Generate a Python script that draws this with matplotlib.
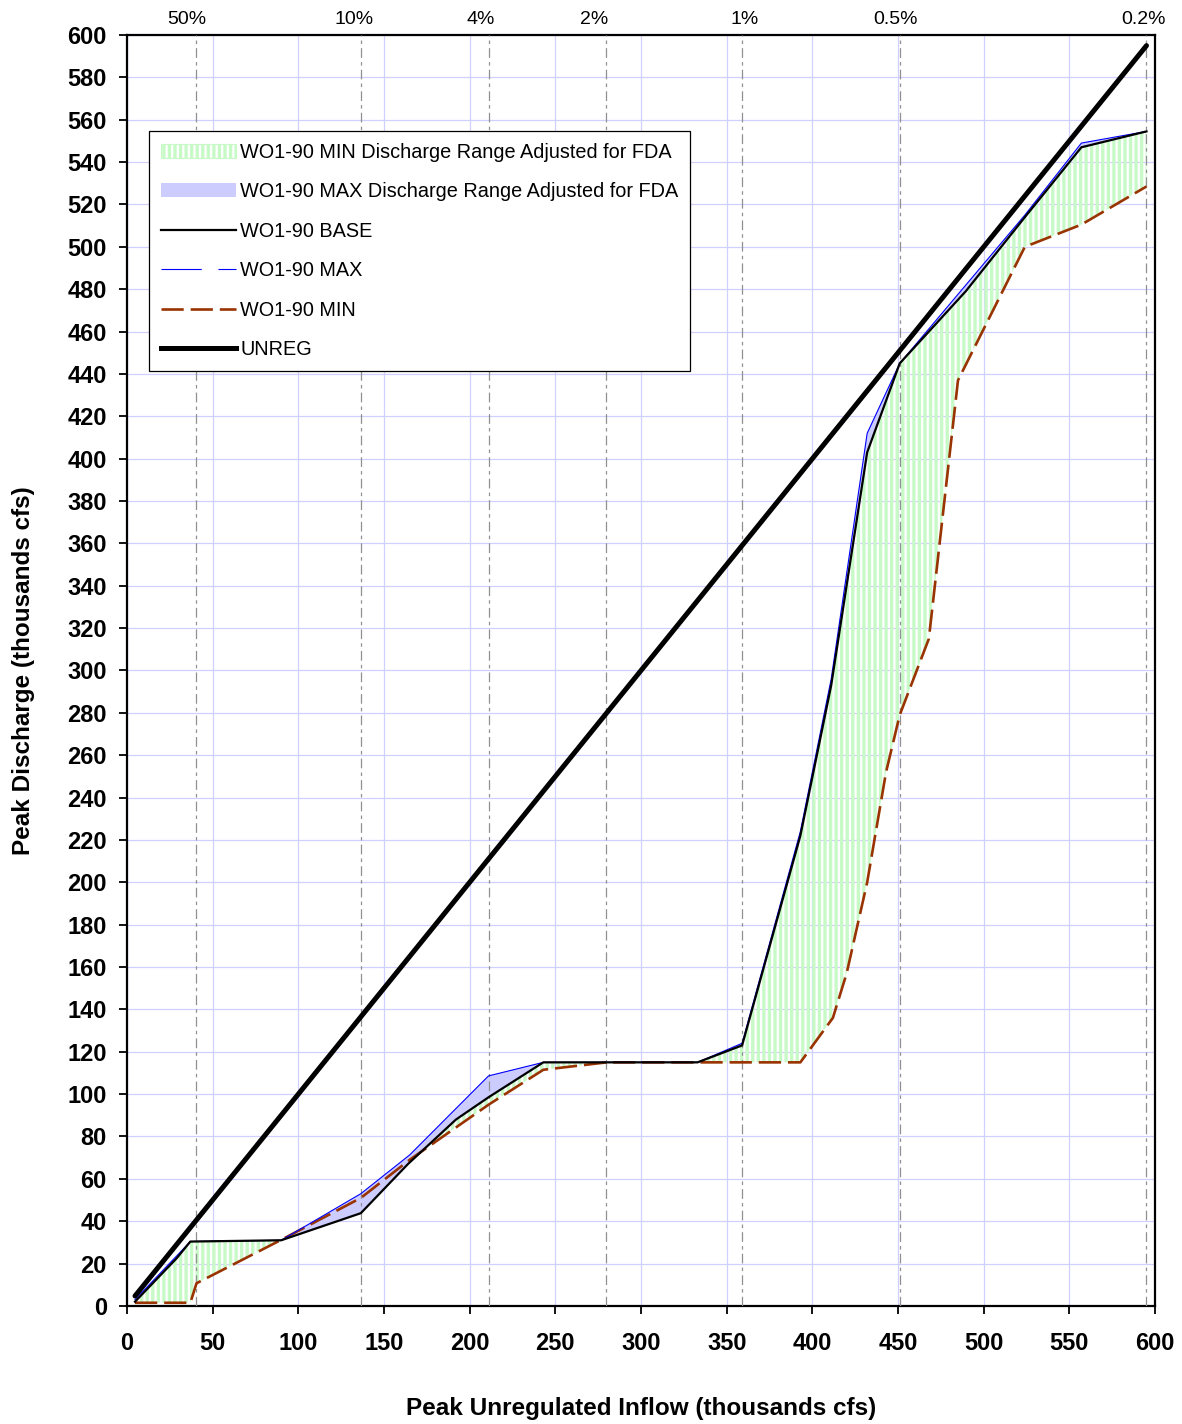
import numpy as np
import matplotlib
matplotlib.use('Agg')
from matplotlib import pyplot as plt
from matplotlib import patches as mpatches
from matplotlib.lines import Line2D

plt.rcParams['font.family'] = ['Liberation Sans', 'DejaVu Sans']
plt.rcParams['hatch.linewidth'] = 2.4
plt.rcParams['lines.scale_dashes'] = False

# peak unregulated inflow (x) vs peak discharge (y), thousands cfs
unreg_x = [4.7, 40.5, 136.5, 211.0, 280.0, 359.0, 451.0, 595.0]
unreg_y = [4.7, 40.5, 136.5, 211.0, 280.0, 359.0, 451.0, 595.0]

base_x = [4.7, 29.0, 37.0, 90.0, 136.5, 164.0, 192.0, 211.0, 243.0, 333.0, 359.0, 393.0, 411.0, 432.0, 451.0, 489.5, 524.0, 557.0, 595.0]
base_y = [2.0, 22.5, 30.4, 31.0, 43.8, 67.0, 88.0, 98.5, 115.0, 115.0, 123.0, 222.0, 293.0, 403.0, 445.0, 479.0, 514.0, 547.0, 554.5]

max_x = [4.7, 37.0, 90.0, 136.5, 165.0, 211.0, 243.0, 333.0, 359.0, 393.0, 411.0, 432.0, 451.0, 524.0, 557.0, 595.0]
max_y = [3.0, 30.4, 31.0, 53.0, 71.3, 108.6, 115.0, 115.0, 124.0, 224.0, 296.0, 412.0, 445.0, 515.0, 549.0, 554.5]

min_x = [4.7, 37.0, 40.6, 90.0, 136.5, 165.0, 211.0, 243.0, 280.0, 393.0, 412.0, 420.0, 432.0, 443.0, 451.0, 468.0, 485.0, 524.0, 557.0, 595.0]
min_y = [1.5, 1.5, 10.7, 31.2, 51.0, 69.0, 95.0, 111.5, 115.0, 115.0, 136.0, 157.0, 200.0, 252.0, 279.0, 315.0, 437.0, 500.0, 510.5, 528.5]

# exceedance frequency markers
freq_x = [40.3, 136.6, 211.3, 279.6, 359.0, 451.2, 594.8]
freq_labels = ['50%', '10%', '4%', '2%', '1%', '0.5%', '0.2%']
freq_label_x = [35.0, 132.5, 206.6, 272.6, 360.7, 448.8, 593.0]

GREEN = '#C8FAC8'
BLUE_FILL = '#CCCCFF'
MIN_COLOR = '#993300'
MIN_DASH = (0, (16, 5))


def poly(xa, ya, xb, yb):
	# upper curve forward, lower curve backward
	px = list(xa) + list(xb)[::-1]
	py = list(ya) + list(yb)[::-1]
	return px, py


fig = plt.figure(figsize=(11.82, 14.24), dpi=100)
ax = fig.add_axes([0.1074, 0.0829, 0.8698, 0.8925])

ax.set_xlim(0, 600)
ax.set_ylim(0, 600)
ax.set_xticks(np.arange(0, 601, 50))
ax.set_yticks(np.arange(0, 601, 20))
ax.grid(True, color='#D0D0FF', lw=0.9)
ax.set_axisbelow(True)

# fills
gx, gy = poly(base_x, base_y, min_x, min_y)
ax.fill(gx, gy, facecolor='none', edgecolor=GREEN, hatch='|||', lw=0, zorder=2)
bx, by = poly(max_x, max_y, base_x, base_y)
ax.fill(bx, by, facecolor=BLUE_FILL, edgecolor='none', lw=0, zorder=2.5)

# frequency lines
for fx in freq_x:
	ax.axvline(fx, color='#909090', lw=0.9, ls=(0, (7, 3, 2.5, 3)), zorder=3)
for lx, lab in zip(freq_label_x, freq_labels):
	ax.text(lx, 1.012, lab, transform=ax.get_xaxis_transform(), ha='center', va='center', fontsize=14)

# curves
ax.plot(min_x, min_y, color=MIN_COLOR, lw=1.9, ls=MIN_DASH, zorder=4)
ax.plot(max_x, max_y, color='#0000FF', lw=0.8, zorder=4.5)
ax.plot(base_x, base_y, color='black', lw=1.6, zorder=5)
ax.plot(unreg_x, unreg_y, color='black', lw=3.6, zorder=6, solid_capstyle='round')

for s in ax.spines.values():
	s.set_linewidth(1.6)
	s.set_color('black')
ax.tick_params(direction='out', length=6, width=1.3, labelsize=17)
ax.tick_params(axis='x', pad=13)
ax.tick_params(axis='y', pad=8.5)
for lab in ax.get_xticklabels() + ax.get_yticklabels():
	lab.set_fontweight('bold')

ax.set_xlabel('Peak Unregulated Inflow (thousands cfs)', fontsize=17.5, fontweight='bold', labelpad=30)
ax.set_ylabel('Peak Discharge (thousands cfs)', fontsize=17.5, fontweight='bold', labelpad=23)

# legend
handles = [
	mpatches.Patch(facecolor='none', edgecolor=GREEN, hatch='|||', lw=0.8),
	mpatches.Patch(facecolor=BLUE_FILL, edgecolor='none'),
	Line2D([], [], color='black', lw=1.6),
	Line2D([], [], color='#0000FF', lw=0.8, ls=(0, (29, 12))),
	Line2D([], [], color=MIN_COLOR, lw=1.9, ls=MIN_DASH),
	Line2D([], [], color='black', lw=3.6),
]
labels = ['WO1-90 MIN Discharge Range Adjusted for FDA',
	'WO1-90 MAX Discharge Range Adjusted for FDA',
	'WO1-90 BASE', 'WO1-90 MAX', 'WO1-90 MIN', 'UNREG']
leg = ax.legend(handles, labels, loc='upper left', bbox_to_anchor=(0.0214, 0.9245),
	fontsize=14.3, frameon=True, fancybox=False, edgecolor='black', framealpha=1,
	handlelength=3.8, handletextpad=0.2, labelspacing=1.03, borderpad=0.6, borderaxespad=0)
leg.get_frame().set_linewidth(0.9)
leg.set_zorder(10)

fig.savefig('out.png', dpi=100)
